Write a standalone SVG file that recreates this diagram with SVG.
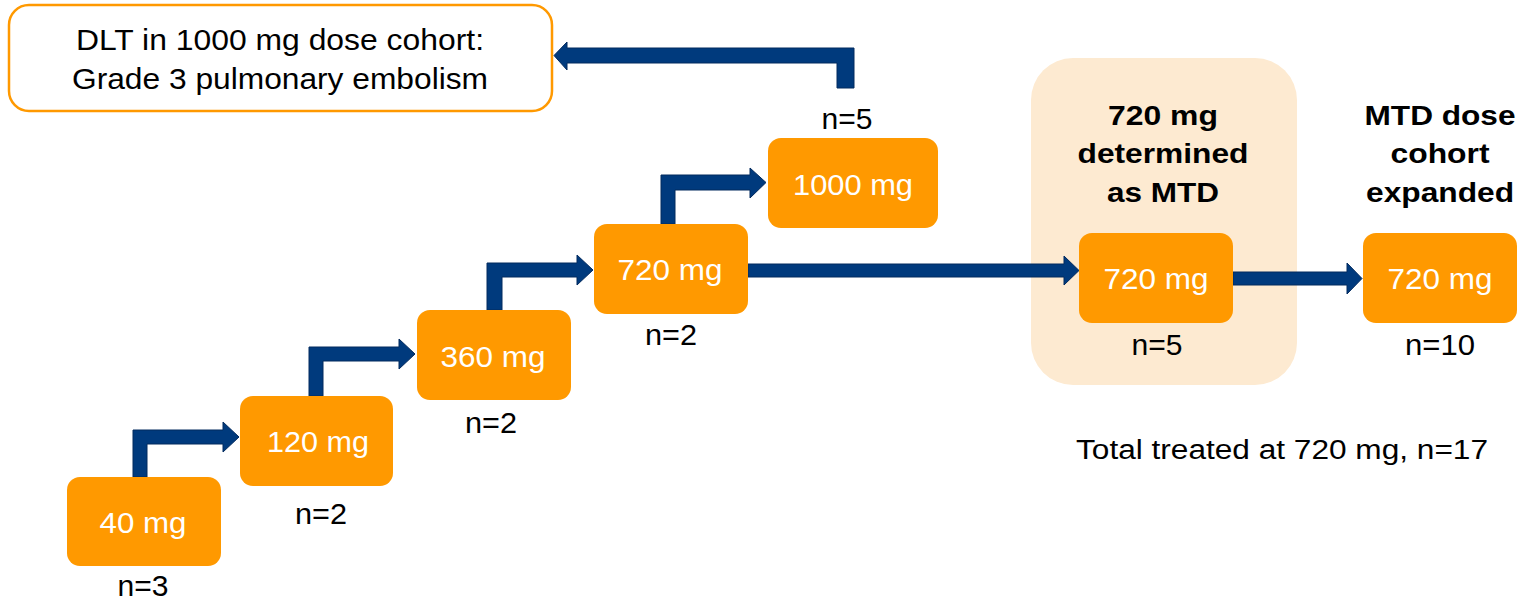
<svg xmlns="http://www.w3.org/2000/svg" width="1530" height="603" viewBox="0 0 1530 603">
<style>
.box{fill:#FF9900}
.lbl{font-family:"Liberation Sans",Arial,sans-serif;font-size:29px;fill:#ffffff;text-anchor:middle}
.txt{font-family:"Liberation Sans",Arial,sans-serif;font-size:29px;fill:#000000;text-anchor:middle}
.bold{font-family:"Liberation Sans",Arial,sans-serif;font-size:28px;font-weight:bold;fill:#000000;text-anchor:middle}
.arr{fill:#003A7D;stroke:#022A5E;stroke-width:1}
</style>
<rect width="1530" height="603" fill="#ffffff"/>
<g id="mtd-highlight">
<rect x="1031" y="58" width="266" height="327" rx="42" fill="#FDEAD1"/>
<text class="bold" x="1163" y="125" textLength="110" lengthAdjust="spacingAndGlyphs">720 mg</text>
<text class="bold" x="1163" y="163" textLength="171" lengthAdjust="spacingAndGlyphs">determined</text>
<text class="bold" x="1163" y="202" textLength="112" lengthAdjust="spacingAndGlyphs">as MTD</text>
</g>
<g id="connectors">
<path class="arr" d="M133,477 V430 H223 V422 L239,437 L223,452 V444 H147 V477 Z"/>
<path class="arr" d="M309,396 V347 H399 V339 L415,354 L399,369 V361 H323 V396 Z"/>
<path class="arr" d="M487,310 V263 H577 V255 L593,270 L577,285 V277 H502 V310 Z"/>
<path class="arr" d="M661,224 V175 H750 V168 L766,182.5 L750,198 V190 H675 V224 Z"/>
<path class="arr" d="M854,88 V48 H567 V42 L554,55.5 L567,70 V63 H837 V88 Z"/>
<path class="arr" d="M748,264 H1064 V256 L1079,270.5 L1064,285 V277 H748 Z"/>
<path class="arr" d="M1233,272 H1347 V263 L1362,278.5 L1347,294 V285 H1233 Z"/>
</g>
<g id="dlt-note">
<rect x="9" y="5" width="543" height="106" rx="20" fill="#ffffff" stroke="#FF9900" stroke-width="2.5"/>
<text class="txt" x="280" y="50" textLength="408" lengthAdjust="spacingAndGlyphs">DLT in 1000 mg dose cohort:</text>
<text class="txt" x="280" y="89" textLength="416" lengthAdjust="spacingAndGlyphs">Grade 3 pulmonary embolism</text>
</g>
<g id="dose-40">
<rect class="box" x="67" y="477" width="154" height="89" rx="13"/>
<text class="lbl" x="143" y="533" textLength="87" lengthAdjust="spacingAndGlyphs">40 mg</text>
<text class="txt" x="143" y="596" textLength="51" lengthAdjust="spacingAndGlyphs">n=3</text>
</g>
<g id="dose-120">
<rect class="box" x="240" y="396" width="153" height="90" rx="13"/>
<text class="lbl" x="318" y="452" textLength="102" lengthAdjust="spacingAndGlyphs">120 mg</text>
<text class="txt" x="321" y="524" textLength="52" lengthAdjust="spacingAndGlyphs">n=2</text>
</g>
<g id="dose-360">
<rect class="box" x="417" y="310" width="154" height="90" rx="13"/>
<text class="lbl" x="493" y="367" textLength="105" lengthAdjust="spacingAndGlyphs">360 mg</text>
<text class="txt" x="491" y="433" textLength="52" lengthAdjust="spacingAndGlyphs">n=2</text>
</g>
<g id="dose-720">
<rect class="box" x="594" y="224" width="154" height="90" rx="13"/>
<text class="lbl" x="670" y="280" textLength="105" lengthAdjust="spacingAndGlyphs">720 mg</text>
<text class="txt" x="671" y="345" textLength="52" lengthAdjust="spacingAndGlyphs">n=2</text>
</g>
<g id="dose-1000">
<rect class="box" x="768" y="138" width="170" height="90" rx="13"/>
<text class="lbl" x="853" y="195" textLength="120" lengthAdjust="spacingAndGlyphs">1000 mg</text>
<text class="txt" x="847" y="129" textLength="51" lengthAdjust="spacingAndGlyphs">n=5</text>
</g>
<g id="mtd-720">
<rect class="box" x="1079" y="233" width="154" height="90" rx="13"/>
<text class="lbl" x="1156" y="289" textLength="105" lengthAdjust="spacingAndGlyphs">720 mg</text>
<text class="txt" x="1157" y="355" textLength="51" lengthAdjust="spacingAndGlyphs">n=5</text>
</g>
<g id="expanded-720">
<rect class="box" x="1363" y="233" width="154" height="90" rx="13"/>
<text class="bold" x="1440" y="125" textLength="151" lengthAdjust="spacingAndGlyphs">MTD dose</text>
<text class="bold" x="1440" y="163" textLength="99" lengthAdjust="spacingAndGlyphs">cohort</text>
<text class="bold" x="1440" y="202" textLength="148" lengthAdjust="spacingAndGlyphs">expanded</text>
<text class="lbl" x="1440" y="289" textLength="105" lengthAdjust="spacingAndGlyphs">720 mg</text>
<text class="txt" x="1440" y="355" textLength="70" lengthAdjust="spacingAndGlyphs">n=10</text>
</g>
<g id="total">
<text class="txt" x="1282" y="459" font-size="27" textLength="412" lengthAdjust="spacingAndGlyphs" style="font-size:27px">Total treated at 720 mg, n=17</text>
</g>
</svg>
